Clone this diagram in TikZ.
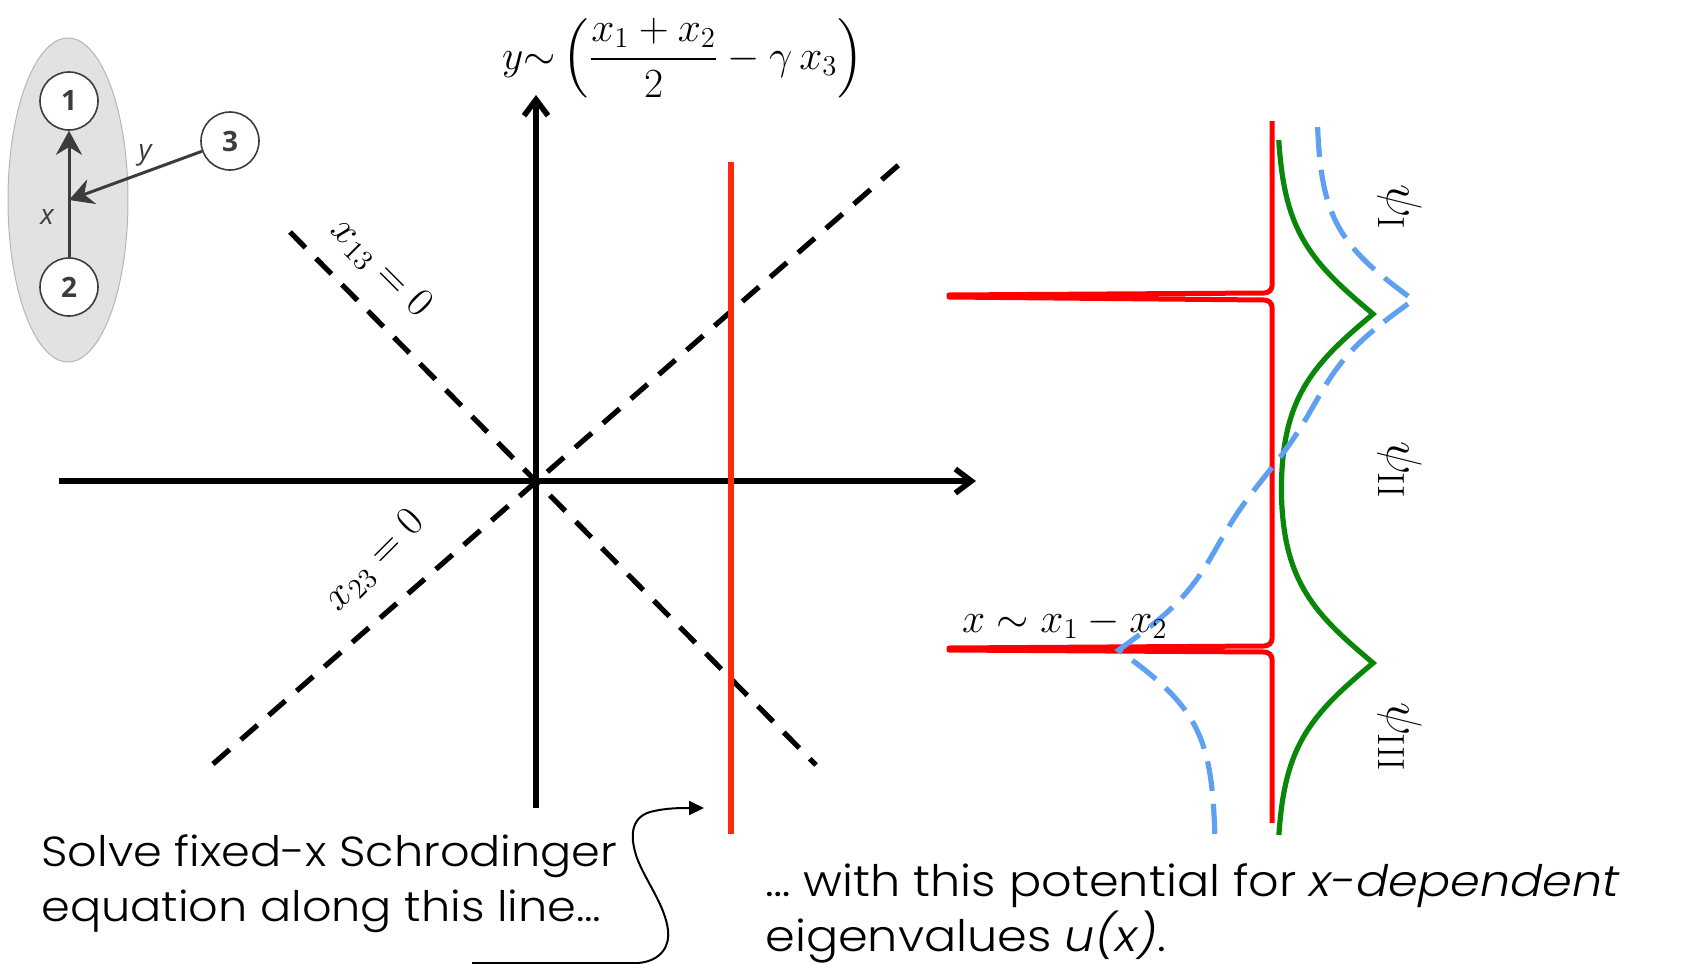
\documentclass[tikz,border=0pt]{standalone}
\usepackage{amsmath,amssymb}
\usepackage{fontspec}
\usepackage{tikz}
\usetikzlibrary{arrows.meta, shapes.geometric, positioning, calc}
\setsansfont{Poppins Light}[FakeStretch=1.1,ItalicFont={Poppins Light Italic}]
\newfontfamily\digitfont{Open Sans}
\newfontfamily\smallsans{Open Sans}
\definecolor{PotRed}{RGB}{255,0,0}
\definecolor{CutRed}{RGB}{255,40,10}
\definecolor{WaveGreen}{RGB}{10,135,10}
\definecolor{WaveBlue}{RGB}{95,160,240}
\definecolor{ShellGray}{RGB}{226,226,226}
\definecolor{EdgeGray}{RGB}{60,60,60}
\newcommand\mathsz{\fontsize{22}{26}\selectfont}
\newcommand\psisz{\fontsize{27}{30}\selectfont}
\newcommand\notesz{\sffamily\fontsize{21}{27.5}\selectfont}

\begin{document}
\begin{tikzpicture}[x=0.5pt,y=-0.5pt,
        pt/.style={circle,draw=EdgeGray,fill=white,line width=0.8pt,
                   minimum size=29pt,inner sep=0pt,text=EdgeGray,
                   font=\digitfont\bfseries\fontsize{14}{14}\selectfont},
        jac/.style={-{Stealth[length=12pt,width=13pt]},EdgeGray,line width=1.5pt},
        lbl/.style={text=EdgeGray,font=\smallsans\itshape\fontsize{14}{14}\selectfont},
        axis/.style={-{Straight Barb[length=8pt,width=12pt]},line width=2.8pt},
        guide/.style={line width=2.6pt,dash pattern=on 11pt off 7.5pt},
        pot/.style={PotRed,line width=2.5pt,line join=round},
        wave/.style={line width=2.6pt},
        note/.style={align=left,inner sep=0pt,font=\notesz},
        hook/.style={-{Triangle[length=7.5pt,width=7pt]},line width=1pt},
        declare function={gk(\d,\w)=1-tanh(abs(\d)/\w);}
      ]
        \useasboundingbox (0,0) rectangle (1694,964);
        \node[ellipse,fill=ShellGray,draw=ShellGray!80!black,line width=0.5pt,
              minimum width=60pt,minimum height=162pt,inner sep=0pt] (pair) at (68,200) {};
        \node[pt] (p1) at (69,101) {1};
        \node[pt] (p2) at (69,287) {2};
        \node[pt] (p3) at (230,141) {3};
        \coordinate (cm) at (69,200);
        \draw[jac] (p2) -- (p1);
        \draw[jac] (p3) -- (cm);
        \node[lbl] (ylab) at (145,155) {y};
        \node[lbl] (xlab) at (47,217) {x};

        \coordinate (ybot) at (536,808); \coordinate (ytop) at (536,95);
        \coordinate (xl) at (59,481); \coordinate (xr) at (976,481);
        \draw[axis] (ybot) -- (ytop); \draw[axis] (xl) -- (xr);
        \draw[guide] (290,232) -- (816,765);
        \draw[guide] (213,764) -- (902,162);
        \draw[CutRed,line width=2.8pt] (731,162) -- (731,834);
        \node[rotate=-45,font=\mathsz] (l13) at (381,268) {$x_{13}=0$};
        \node[rotate=45,font=\mathsz] (l23) at (375,561) {$x_{23}=0$};
        \node[font=\mathsz,inner sep=0pt] (yform) at (683,58)
          {$y{\sim}\left(\dfrac{x_1+x_2}{2}-\gamma\,x_3\right)$};

        \draw[pot] (1272,121) -- (1272,286) to[out=-90,in=0] (1264,293)
          -- (949,295) -- (949,297) -- (1264,300) to[out=0,in=90] (1272,307)
          -- (1272,639) to[out=-90,in=0] (1264,646)
          -- (949,648) -- (949,650) -- (1264,652) to[out=0,in=90] (1272,659)
          -- (1272,823);
        \draw[wave,WaveGreen] plot[domain=140:835,samples=696]
          ({1276+97*gk(\x-314,82)+97*gk(\x-663,82)},\x);
        \draw[wave,WaveBlue,dash pattern=on 15pt off 6.5pt] plot[domain=127:835,samples=709]
          ({1266+50*tanh((475-\x)/70)+98*gk(\x-300,72)-98*gk(\x-650,72)},\x);
        \node[font=\mathsz,anchor=base west] (xform) at (955,632) {$x\sim x_1-x_2$};
        \node[rotate=-90,font=\psisz] (psi1) at (1400,207) {$\psi_{\mathrm{I}}$};
        \node[rotate=-90,font=\psisz] (psi2) at (1400,470) {$\psi_{\mathrm{II}}$};
        \node[rotate=-90,font=\psisz] (psi3) at (1400,737) {$\psi_{\mathrm{III}}$};

        \node[note,anchor=base west] (solve) at (41,921)
          {Solve fixed-x Schrodinger\\equation along this line…};
        \node[note,anchor=base west,font=\sffamily\fontsize{21.7}{27.5}\selectfont]
          (with) at (765,951)
          {… with this potential for \textit{x-dependent}\\eigenvalues \textit{u(x)}.};
        \coordinate (hs) at (472,963); \coordinate (he) at (704,808);
        \draw[hook] (hs) -- (638,963) .. controls (662,961) and (670,945) .. (668,930)
          .. controls (665,905) and (645,880) .. (637,858)
          .. controls (630,838) and (630,818) .. (650,812)
          .. controls (665,808) and (680,808) .. (he);
      \end{tikzpicture}
\end{document}
